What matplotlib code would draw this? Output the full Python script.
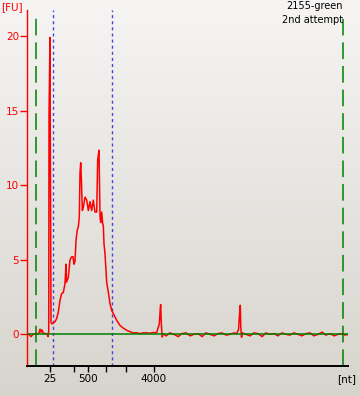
import numpy as np
import matplotlib
matplotlib.use("Agg")
import matplotlib.pyplot as plt

plt.rcParams['font.family'] = ['DejaVu Sans']
plt.rcParams['lines.scale_dashes'] = False

# electropherogram trace: migration time (s) vs fluorescence (FU)
time_s = [18.00, 18.33, 18.67, 19.00, 19.33, 19.67, 20.00, 20.17, 20.33, 20.50,
          20.67, 21.00, 21.33, 21.50, 21.62, 21.67, 21.83, 22.00, 22.17, 22.33,
          22.67, 22.95, 23.22, 23.50, 23.78, 24.05, 24.33, 24.50, 24.58, 24.88,
          25.17, 25.45, 25.67, 25.83, 26.00, 26.17, 26.38, 26.55, 26.72, 26.83,
          26.95, 27.08, 27.22, 27.38, 27.67, 27.95, 28.22, 28.50, 28.78, 29.05,
          29.33, 29.62, 29.78, 30.00, 30.17, 30.28, 30.45, 30.62, 30.72, 30.83,
          31.00, 31.28, 31.55, 31.83, 32.12, 32.38, 32.67, 32.95, 33.50, 34.05,
          34.62, 35.17, 35.67, 36.28, 36.83, 37.33, 37.95, 38.50, 39.00, 39.62,
          39.83, 40.05, 40.22, 40.28, 40.37, 40.45, 40.55, 40.67, 41.20, 41.80,
          42.50, 43.20, 43.80, 44.50, 45.20, 45.80, 46.50, 47.20, 47.80, 48.50,
          49.20, 49.80, 50.50, 51.20, 51.80, 52.50, 52.90, 53.25, 53.42, 53.55,
          53.63, 53.75, 53.92, 54.50, 55.20, 55.80, 56.50, 57.20, 57.80, 58.50,
          59.20, 59.80, 60.50, 61.20, 61.80, 62.50, 63.20, 63.80, 64.50, 65.20,
          65.80, 66.50, 67.20, 67.80, 68.50, 69.20, 69.80, 70.50, 71.00, 71.50]
fu = [0.05, 0.00, -0.15, 0.00, 0.05, 0.00, 0.10, 0.35, 0.15, 0.30,
      0.10, 0.05, 0.05, -0.15, 0.20, 14.7, 19.9, 0.80, 0.70, 0.75,
      0.85, 1.07, 1.50, 2.28, 2.74, 2.80, 3.40, 4.70, 3.50, 3.80,
      5.00, 5.20, 5.20, 4.70, 4.90, 6.30, 7.00, 7.20, 7.90, 10.8,
      11.5, 10.2, 8.30, 8.50, 9.20, 9.00, 8.30, 8.90, 8.30, 9.00,
      8.20, 8.20, 11.7, 12.35, 7.90, 7.50, 8.20, 7.40, 7.30, 6.10,
      5.40, 3.50, 2.84, 2.07, 1.60, 1.40, 1.16, 0.94, 0.60, 0.42,
      0.27, 0.18, 0.10, 0.11, 0.05, 0.10, 0.10, 0.08, 0.12, 0.12,
      0.40, 0.70, 1.80, 2.00, 0.90, 0.30, -0.18, 0.05, -0.10, 0.10,
      0.00, -0.15, 0.05, 0.10, -0.10, 0.00, 0.05, -0.15, 0.10, 0.00,
      -0.10, 0.05, 0.10, -0.05, 0.00, 0.10, 0.05, 0.30, 1.34, 1.95,
      0.50, -0.20, 0.10, 0.00, -0.10, 0.10, 0.05, -0.15, 0.10, 0.00,
      0.05, -0.10, 0.10, 0.00, -0.05, 0.10, 0.00, -0.10, 0.05, 0.10,
      -0.10, 0.00, 0.15, -0.05, 0.05, -0.10, 0.00, 0.05, -0.05, 0.00]

# ladder positions (s) and size labels
ladder_t = [21.83, 25.83, 28.22, 31.17, 34.55, 39.12]
ladder_lbl = ['25', '', '500', '', '', '4000']

marker_t = [19.50, 70.72]      # lower / upper markers
region_t = [22.38, 32.22]      # smear region bounds

fig = plt.figure(figsize=(3.6, 3.96), dpi=100)

# gradient background
bg = fig.add_axes([0, 0, 1, 1], zorder=-10)
grad = np.linspace(0, 1, 256)[:, None]
top = np.array([0.965, 0.960, 0.955])
bot = np.array([0.845, 0.833, 0.806])
img = top[None, None, :] * (1 - grad[..., None]) + bot[None, None, :] * grad[..., None]
bg.imshow(img, aspect='auto', extent=[0, 1, 0, 1])
bg.axis('off')

ax = fig.add_axes([27/360, 1 - 366/396, 321/360, 356/396])
ax.patch.set_alpha(0)
ax.set_xlim(18, 71.5)
ax.set_ylim(-2.12, 21.74)

ax.plot(time_s, fu, color='#ff0000', lw=1.1, zorder=3)
ax.axhline(0, color='#008000', lw=1.1, zorder=4)

for t in marker_t:
    ax.axvline(t, ymax=(356 - 3) / 356, color='#008000', lw=1.1,
               linestyle=(0, (12, 5)), zorder=2)
for t in region_t:
    ax.axvline(t, color='#4444dd', lw=1.0, linestyle=(0, (2.2, 2.2)), zorder=2)

for s in ('top', 'right'):
    ax.spines[s].set_visible(False)
ax.spines['left'].set_color('#ff0000')
ax.spines['left'].set_linewidth(1.0)
ax.spines['bottom'].set_color('black')
ax.spines['bottom'].set_linewidth(1.4)

ax.set_yticks([0, 5, 10, 15, 20])
ax.tick_params(axis='y', colors='#ff0000', labelcolor='#ff0000', length=4.8,
               width=1, pad=1, labelsize=7.5)
ax.set_xticks(ladder_t)
ax.set_xticklabels(ladder_lbl)
ax.tick_params(axis='x', colors='black', length=4.3, width=1, pad=1.5,
               labelsize=7.5)

fig.text(1/360, 1 - 7/396, '[FU]', color='#ff0000', fontsize=7.5,
         ha='left', va='center')
fig.text(346.7/360, 1 - 379/396, '[nt]', color='black', fontsize=7.5,
         ha='center', va='center')
fig.text(343/360, 1 - 6/396, '2155-green', color='black', fontsize=7,
         ha='right', va='center')
fig.text(343/360, 1 - 20/396, '2nd attempt', color='black', fontsize=7,
         ha='right', va='center')

fig.savefig('out.png', dpi=100)
